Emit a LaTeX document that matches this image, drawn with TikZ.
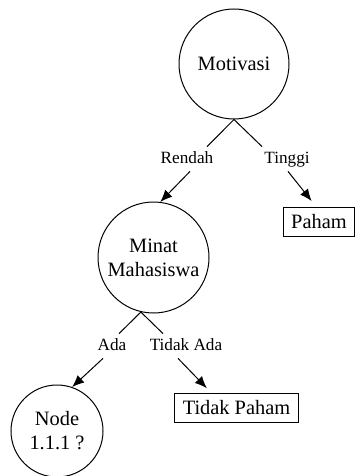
\documentclass[tikz,border=0pt]{standalone}
\usepackage{fontspec}
\setmainfont{Liberation Serif}
\usetikzlibrary{positioning, calc, arrows.meta}

\begin{document}
\begin{tikzpicture}[
    x=0.5pt, y=-0.5pt,
    every node/.style={font=\fontsize{10.2}{12}\selectfont},
    crc/.style={draw,circle,line width=0.5pt,inner sep=0pt,align=center},
    leaf/.style={draw,rectangle,line width=0.5pt,inner xsep=4pt,minimum height=14.5pt},
    lbl/.style={font=\fontsize{8.6}{10}\selectfont,inner sep=0pt,text height=6pt,text depth=1.5pt,minimum height=12pt},
    link/.style={draw,line width=0.5pt},
    arr/.style={draw,line width=0.5pt,-{Latex[length=6pt,width=5pt]}}
  ]
  \useasboundingbox (0,0) rectangle (359,476);
  \node[crc,minimum size=55pt] (mot) at (234,64) {Motivasi};
  \node[lbl] (lRendah) at (187,159) {Rendah};
  \node[lbl] (lTinggi) at (287,159) {Tinggi};
  \node[crc,minimum size=55.5pt] (minat) at (153.5,257.5) {Minat\\Mahasiswa};
  \node[leaf] (paham) at (319,221.5) {Paham};
  \node[lbl] (lAda) at (112,346) {Ada};
  \node[lbl] (lTidakAda) at (186,346) {Tidak Ada};
  \node[crc,minimum size=46pt] (n111) at (57,431) {Node\\1.1.1 ?};
  \node[leaf] (tpaham) at (236.5,407.5) {Tidak Paham};

  \path[link] (mot.south) -- ([xshift=10pt]lRendah.north);
  \path[link] (mot.south) -- ([xshift=-12.5pt]lTinggi.north);
  \path[arr] ([xshift=1.5pt]lRendah.south) -- (minat.83);
  \path[arr,shorten >=3.5pt] ([xshift=0.5pt]lTinggi.south) -- ([xshift=-1.5pt]paham.north);
  \path[link] (minat.257) -- ([xshift=3.5pt]lAda.north);
  \path[link] (minat.257) -- ([xshift=-11.5pt]lTidakAda.north);
  \path[arr] ([xshift=-4.5pt]lAda.south) -- (n111.71);
  \path[arr,shorten >=3pt] ([xshift=-4pt]lTidakAda.south) -- ([xshift=-12.75pt]tpaham.north);
\end{tikzpicture}
\end{document}
